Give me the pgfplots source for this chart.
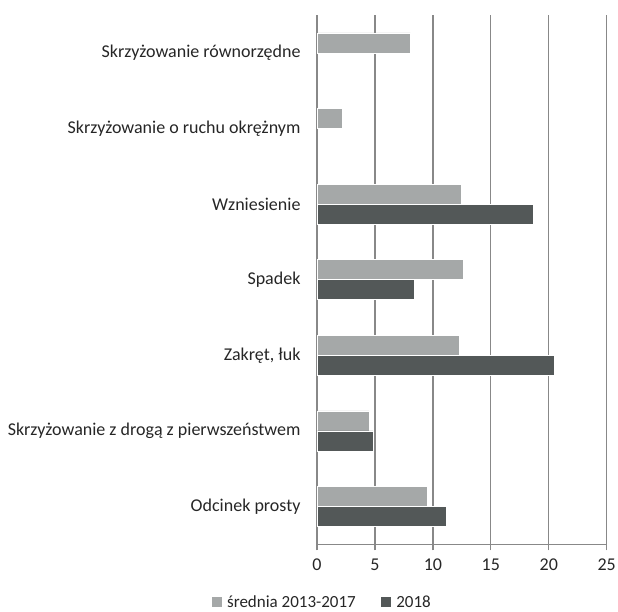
\documentclass[border=0pt]{standalone}
\usepackage{pgfplots}
\pgfplotsset{compat=1.18}
\usepackage{fontspec}
\setmainfont{Carlito}
\definecolor{cLight}{HTML}{A5A8A8}
\definecolor{cDark}{HTML}{535858}
\definecolor{cGrid}{HTML}{888888}
\definecolor{cText}{HTML}{262626}
\pgfplotstableread{
y avg y2018
0 9.55 11.15
1 4.5 4.85
2 12.3 20.45
3 12.65 8.4
4 12.45 18.65
5 2.2 nan
6 8.05 nan
}\datatab
\begin{document}
\begin{tikzpicture}[x=1bp,y=1bp]
\useasboundingbox (0,0) rectangle (618,612);
\begin{axis}[
  at={(317bp,67.7bp)}, anchor=south west,
  scale only axis, width=289.7bp, height=529.3bp,
  xmin=0, xmax=25, ymin=-0.5, ymax=6.5,
  xtick={0,5,...,25},
  ytick={0,...,6},
  yticklabels={Odcinek prosty, Skrzyżowanie z drogą z pierwszeństwem, {Zakręt, łuk}, Spadek, Wzniesienie, Skrzyżowanie o ruchu okrężnym, Skrzyżowanie równorzędne},
  axis x line*=bottom, axis y line*=left,
  xmajorgrids, grid style={cGrid, line width=1.3bp},
  axis line style={cGrid, line width=1.3bp},
  tick align=outside,
  major tick length=6bp,
  xtick style={draw=cGrid, line width=1.3bp},
  ytick style={draw=none},
  extra y ticks={-0.5,0.5,...,6.5},
  extra y tick labels={},
  extra y tick style={tick style={draw=cGrid, line width=1.3bp}},
  /pgf/number format/assume math mode=true,
  ticklabel style={font=\fontsize{18bp}{21bp}\selectfont, text=cText},
  yticklabel style={xshift=-7bp},
  xticklabel style={yshift=-5bp},
  xbar, bar width=20bp,
  unbounded coords=discard,
  legend style={at={(0.018,-0.109)}, anchor=center, draw=none, fill=none,
    inner sep=1bp,
    legend columns=2, font=\fontsize{17bp}{19bp}\selectfont, text=cText,
    /tikz/every even column/.append style={column sep=23bp}},
  legend image code/.code={\fill[#1, draw=none] (0bp,-5bp) rectangle (10bp,5bp); \path (0bp,0bp) (13bp,0bp);},
]
\addplot[fill=cLight, draw=white, line width=0.5bp, bar shift=10bp] table[x=avg, y=y] {\datatab};
\addplot[fill=cDark, draw=white, line width=0.5bp, bar shift=-10bp] table[x=y2018, y=y] {\datatab};
\legend{średnia 2013-2017, 2018}
\end{axis}
\end{tikzpicture}
\end{document}
